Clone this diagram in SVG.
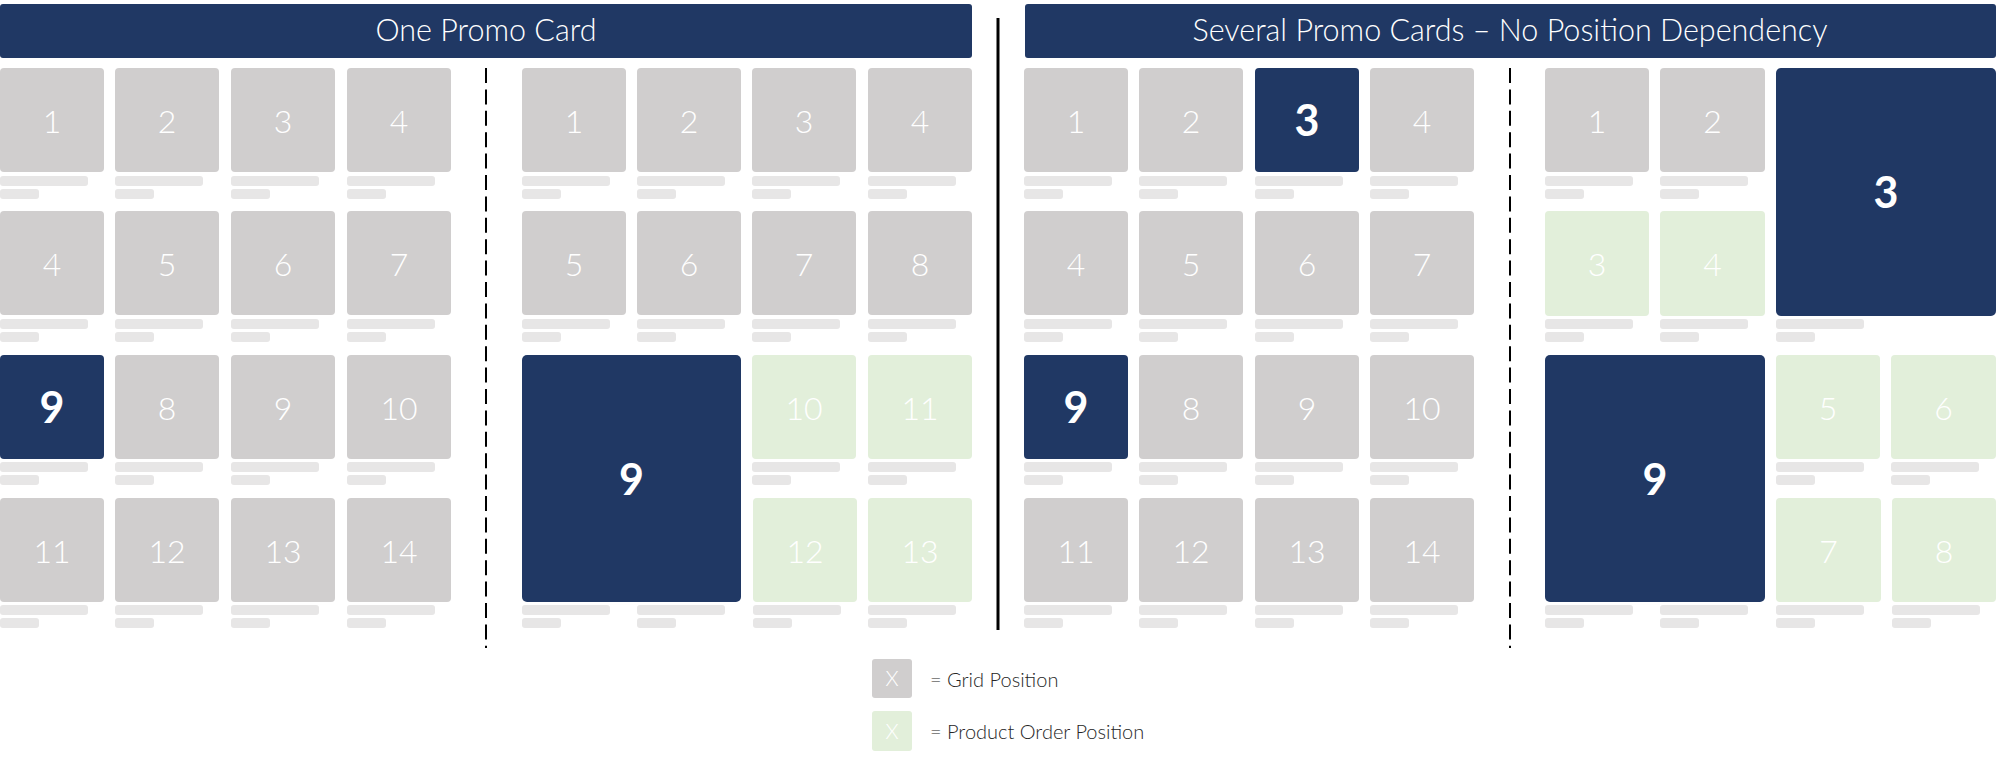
<svg xmlns="http://www.w3.org/2000/svg" width="1997" height="761" viewBox="0 0 1997 761">
<style>
.hd{fill:#203864}
.ht{fill:#fff;font-family:Lato,"Open Sans","Liberation Sans",sans-serif;font-weight:300;font-size:30.5px;text-anchor:middle}
.g{fill:#d0cece}
.n{fill:#203864}
.p{fill:#e2efda}
.b{fill:#e7e6e6}
.t{fill:#fff;font-family:Lato,"Open Sans","Liberation Sans",sans-serif;font-weight:300;font-size:32px;text-anchor:middle}
.tb{fill:#fff;font-family:Lato,"Liberation Sans",sans-serif;font-weight:700;font-size:43px;text-anchor:middle}
.lt{fill:#262626;font-family:Lato,"Open Sans","Liberation Sans",sans-serif;font-weight:300;font-size:20px}
.lx{fill:#fff;font-family:Lato,"Open Sans","Liberation Sans",sans-serif;font-weight:300;font-size:21px;text-anchor:middle}
</style>
<defs>
<g id="bars"><rect class="b" x="0" y="0" width="88" height="10" rx="3"/><rect class="b" x="0" y="13" width="39" height="10" rx="3"/></g>
</defs>

<g id="header-left"><rect class="hd" x="0" y="4" width="972" height="54" rx="3"/><text class="ht" x="486" y="41">One Promo Card</text></g>
<g id="header-right"><rect class="hd" x="1025" y="4" width="971" height="54" rx="3"/><text class="ht" x="1510" y="41">Several Promo Cards – No Position Dependency</text></g>

<g id="connectors">
<line x1="998" y1="18" x2="998" y2="630" stroke="#000" stroke-width="3"/>
<line x1="486" y1="68" x2="486" y2="648" stroke="#000" stroke-width="2" stroke-dasharray="15 6.4"/>
<line x1="1510" y1="68" x2="1510" y2="648" stroke="#000" stroke-width="2" stroke-dasharray="15 6.4"/>
</g>

<!-- Grid A -->
<g id="A-r1c1"><rect class="g" x="0" y="68" width="104" height="104" rx="4"/><text class="t" x="52" y="133">1</text><use href="#bars" x="0" y="176"/></g>
<g id="A-r1c2"><rect class="g" x="115" y="68" width="104" height="104" rx="4"/><text class="t" x="167" y="133">2</text><use href="#bars" x="115" y="176"/></g>
<g id="A-r1c3"><rect class="g" x="231" y="68" width="104" height="104" rx="4"/><text class="t" x="283" y="133">3</text><use href="#bars" x="231" y="176"/></g>
<g id="A-r1c4"><rect class="g" x="347" y="68" width="104" height="104" rx="4"/><text class="t" x="399" y="133">4</text><use href="#bars" x="347" y="176"/></g>
<g id="A-r2c1"><rect class="g" x="0" y="211" width="104" height="104" rx="4"/><text class="t" x="52" y="276">4</text><use href="#bars" x="0" y="319"/></g>
<g id="A-r2c2"><rect class="g" x="115" y="211" width="104" height="104" rx="4"/><text class="t" x="167" y="276">5</text><use href="#bars" x="115" y="319"/></g>
<g id="A-r2c3"><rect class="g" x="231" y="211" width="104" height="104" rx="4"/><text class="t" x="283" y="276">6</text><use href="#bars" x="231" y="319"/></g>
<g id="A-r2c4"><rect class="g" x="347" y="211" width="104" height="104" rx="4"/><text class="t" x="399" y="276">7</text><use href="#bars" x="347" y="319"/></g>
<g id="A-r3c1"><rect class="n" x="0" y="355" width="104" height="104" rx="4"/><text class="tb" x="52" y="423">9</text><use href="#bars" x="0" y="462"/></g>
<g id="A-r3c2"><rect class="g" x="115" y="355" width="104" height="104" rx="4"/><text class="t" x="167" y="420">8</text><use href="#bars" x="115" y="462"/></g>
<g id="A-r3c3"><rect class="g" x="231" y="355" width="104" height="104" rx="4"/><text class="t" x="283" y="420">9</text><use href="#bars" x="231" y="462"/></g>
<g id="A-r3c4"><rect class="g" x="347" y="355" width="104" height="104" rx="4"/><text class="t" x="399" y="420">10</text><use href="#bars" x="347" y="462"/></g>
<g id="A-r4c1"><rect class="g" x="0" y="498" width="104" height="104" rx="4"/><text class="t" x="52" y="563">11</text><use href="#bars" x="0" y="605"/></g>
<g id="A-r4c2"><rect class="g" x="115" y="498" width="104" height="104" rx="4"/><text class="t" x="167" y="563">12</text><use href="#bars" x="115" y="605"/></g>
<g id="A-r4c3"><rect class="g" x="231" y="498" width="104" height="104" rx="4"/><text class="t" x="283" y="563">13</text><use href="#bars" x="231" y="605"/></g>
<g id="A-r4c4"><rect class="g" x="347" y="498" width="104" height="104" rx="4"/><text class="t" x="399" y="563">14</text><use href="#bars" x="347" y="605"/></g>

<!-- Grid B -->
<g id="B-r1c1"><rect class="g" x="522" y="68" width="104" height="104" rx="4"/><text class="t" x="574" y="133">1</text><use href="#bars" x="522" y="176"/></g>
<g id="B-r1c2"><rect class="g" x="637" y="68" width="104" height="104" rx="4"/><text class="t" x="689" y="133">2</text><use href="#bars" x="637" y="176"/></g>
<g id="B-r1c3"><rect class="g" x="752" y="68" width="104" height="104" rx="4"/><text class="t" x="804" y="133">3</text><use href="#bars" x="752" y="176"/></g>
<g id="B-r1c4"><rect class="g" x="868" y="68" width="104" height="104" rx="4"/><text class="t" x="920" y="133">4</text><use href="#bars" x="868" y="176"/></g>
<g id="B-r2c1"><rect class="g" x="522" y="211" width="104" height="104" rx="4"/><text class="t" x="574" y="276">5</text><use href="#bars" x="522" y="319"/></g>
<g id="B-r2c2"><rect class="g" x="637" y="211" width="104" height="104" rx="4"/><text class="t" x="689" y="276">6</text><use href="#bars" x="637" y="319"/></g>
<g id="B-r2c3"><rect class="g" x="752" y="211" width="104" height="104" rx="4"/><text class="t" x="804" y="276">7</text><use href="#bars" x="752" y="319"/></g>
<g id="B-r2c4"><rect class="g" x="868" y="211" width="104" height="104" rx="4"/><text class="t" x="920" y="276">8</text><use href="#bars" x="868" y="319"/></g>
<g id="B-big9"><rect class="n" x="522" y="355" width="219" height="247" rx="5"/><text class="tb" x="631.5" y="495">9</text><use href="#bars" x="522" y="605"/><use href="#bars" x="637" y="605"/></g>
<g id="B-r3c3"><rect class="p" x="752" y="355" width="104" height="104" rx="4"/><text class="t" x="804" y="420">10</text><use href="#bars" x="752" y="462"/></g>
<g id="B-r3c4"><rect class="p" x="868" y="355" width="104" height="104" rx="4"/><text class="t" x="920" y="420">11</text><use href="#bars" x="868" y="462"/></g>
<g id="B-r4c3"><rect class="p" x="753" y="498" width="104" height="104" rx="4"/><text class="t" x="805" y="563">12</text><use href="#bars" x="753" y="605"/></g>
<g id="B-r4c4"><rect class="p" x="868" y="498" width="104" height="104" rx="4"/><text class="t" x="920" y="563">13</text><use href="#bars" x="868" y="605"/></g>

<!-- Grid C -->
<g id="C-r1c1"><rect class="g" x="1024" y="68" width="104" height="104" rx="4"/><text class="t" x="1076" y="133">1</text><use href="#bars" x="1024" y="176"/></g>
<g id="C-r1c2"><rect class="g" x="1139" y="68" width="104" height="104" rx="4"/><text class="t" x="1191" y="133">2</text><use href="#bars" x="1139" y="176"/></g>
<g id="C-r1c3"><rect class="n" x="1255" y="68" width="104" height="104" rx="4"/><text class="tb" x="1307" y="136">3</text><use href="#bars" x="1255" y="176"/></g>
<g id="C-r1c4"><rect class="g" x="1370" y="68" width="104" height="104" rx="4"/><text class="t" x="1422" y="133">4</text><use href="#bars" x="1370" y="176"/></g>
<g id="C-r2c1"><rect class="g" x="1024" y="211" width="104" height="104" rx="4"/><text class="t" x="1076" y="276">4</text><use href="#bars" x="1024" y="319"/></g>
<g id="C-r2c2"><rect class="g" x="1139" y="211" width="104" height="104" rx="4"/><text class="t" x="1191" y="276">5</text><use href="#bars" x="1139" y="319"/></g>
<g id="C-r2c3"><rect class="g" x="1255" y="211" width="104" height="104" rx="4"/><text class="t" x="1307" y="276">6</text><use href="#bars" x="1255" y="319"/></g>
<g id="C-r2c4"><rect class="g" x="1370" y="211" width="104" height="104" rx="4"/><text class="t" x="1422" y="276">7</text><use href="#bars" x="1370" y="319"/></g>
<g id="C-r3c1"><rect class="n" x="1024" y="355" width="104" height="104" rx="4"/><text class="tb" x="1076" y="423">9</text><use href="#bars" x="1024" y="462"/></g>
<g id="C-r3c2"><rect class="g" x="1139" y="355" width="104" height="104" rx="4"/><text class="t" x="1191" y="420">8</text><use href="#bars" x="1139" y="462"/></g>
<g id="C-r3c3"><rect class="g" x="1255" y="355" width="104" height="104" rx="4"/><text class="t" x="1307" y="420">9</text><use href="#bars" x="1255" y="462"/></g>
<g id="C-r3c4"><rect class="g" x="1370" y="355" width="104" height="104" rx="4"/><text class="t" x="1422" y="420">10</text><use href="#bars" x="1370" y="462"/></g>
<g id="C-r4c1"><rect class="g" x="1024" y="498" width="104" height="104" rx="4"/><text class="t" x="1076" y="563">11</text><use href="#bars" x="1024" y="605"/></g>
<g id="C-r4c2"><rect class="g" x="1139" y="498" width="104" height="104" rx="4"/><text class="t" x="1191" y="563">12</text><use href="#bars" x="1139" y="605"/></g>
<g id="C-r4c3"><rect class="g" x="1255" y="498" width="104" height="104" rx="4"/><text class="t" x="1307" y="563">13</text><use href="#bars" x="1255" y="605"/></g>
<g id="C-r4c4"><rect class="g" x="1370" y="498" width="104" height="104" rx="4"/><text class="t" x="1422" y="563">14</text><use href="#bars" x="1370" y="605"/></g>

<!-- Grid D -->
<g id="D-r1c1"><rect class="g" x="1545" y="68" width="104" height="104" rx="4"/><text class="t" x="1597" y="133">1</text><use href="#bars" x="1545" y="176"/></g>
<g id="D-r1c2"><rect class="g" x="1660" y="68" width="105" height="104" rx="4"/><text class="t" x="1712.5" y="133">2</text><use href="#bars" x="1660" y="176"/></g>
<g id="D-big3"><rect class="n" x="1776" y="68" width="220" height="248" rx="5"/><text class="tb" x="1886" y="208">3</text><use href="#bars" x="1776" y="319"/></g>
<g id="D-r2c1"><rect class="p" x="1545" y="211" width="104" height="105" rx="4"/><text class="t" x="1597" y="276">3</text><use href="#bars" x="1545" y="319"/></g>
<g id="D-r2c2"><rect class="p" x="1660" y="211" width="105" height="105" rx="4"/><text class="t" x="1712.5" y="276">4</text><use href="#bars" x="1660" y="319"/></g>
<g id="D-big9"><rect class="n" x="1545" y="355" width="220" height="247" rx="5"/><text class="tb" x="1655" y="495">9</text><use href="#bars" x="1545" y="605"/><use href="#bars" x="1660" y="605"/></g>
<g id="D-r3c3"><rect class="p" x="1776" y="355" width="104" height="104" rx="4"/><text class="t" x="1828" y="420">5</text><use href="#bars" x="1776" y="462"/></g>
<g id="D-r3c4"><rect class="p" x="1891" y="355" width="105" height="104" rx="4"/><text class="t" x="1943.5" y="420">6</text><use href="#bars" x="1891" y="462"/></g>
<g id="D-r4c3"><rect class="p" x="1776" y="498" width="105" height="104" rx="4"/><text class="t" x="1828.5" y="563">7</text><use href="#bars" x="1776" y="605"/></g>
<g id="D-r4c4"><rect class="p" x="1892" y="498" width="104" height="104" rx="4"/><text class="t" x="1944" y="563">8</text><use href="#bars" x="1892" y="605"/></g>

<!-- Legend -->
<g id="legend-grid"><rect class="g" x="872" y="659" width="40" height="39" rx="3"/><text class="lx" x="892" y="686">X</text><text class="lt" x="930" y="687">= Grid Position</text></g>
<g id="legend-order"><rect class="p" x="872" y="711" width="40" height="40" rx="3"/><text class="lx" x="892" y="739">X</text><text class="lt" x="930" y="739">= Product Order Position</text></g>
</svg>
